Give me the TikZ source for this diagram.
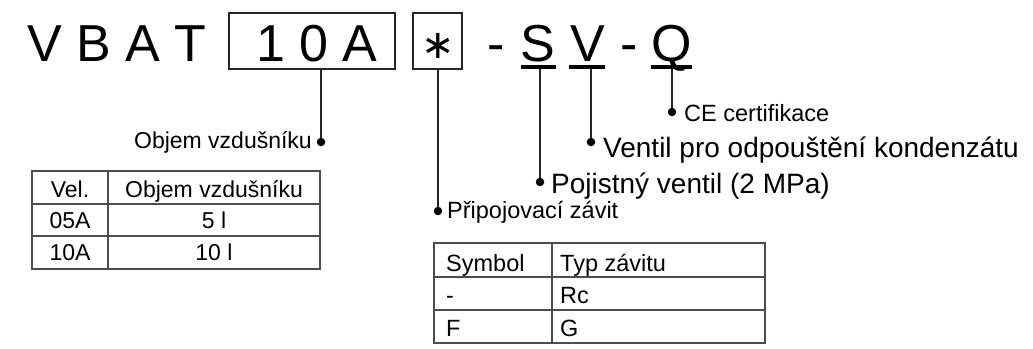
\documentclass[tikz,border=0pt]{standalone}
\usepackage{fontspec}
\setmainfont{Liberation Sans}
\newfontfamily\djvfont{DejaVu Sans}
\begin{document}
\begin{tikzpicture}[x=1pt,y=-1pt,
  big/.style={font=\fontsize{52}{52}\selectfont, inner sep=0pt},
  mid/.style={font=\fontsize{28}{28}\selectfont, inner sep=0pt},
  small/.style={font=\fontsize{23.5}{23.5}\selectfont, inner sep=0pt},
  smaller/.style={font=\fontsize{23}{23}\selectfont, inner sep=0pt},
  codebox/.style={draw=black!85, line width=1.3pt, inner sep=0pt},
  uline/.style={fill=black, inner sep=0pt, minimum height=4pt},
  conn/.style={draw=black!85, line width=1.3pt},
  dotc/.style={circle, fill=black, inner sep=0pt, minimum size=8.5pt},
  tbl/.style={draw=black!70, line width=1.2pt}]
\useasboundingbox (0,0) rectangle (1033,348);

% --- code line
\node[big, anchor=base west] (vbat) at (27,61) {V B A T};
\node[codebox, minimum width=166pt, minimum height=56pt] (box10) at (312,41) {};
\node[big, anchor=base west] (t10a) at (256,61) {1 0 A};
\node[codebox, minimum width=49pt, minimum height=56pt] (boxs) at (437.5,41) {};
\node[inner sep=0pt, font=\djvfont\fontsize{40}{40}\selectfont] (ast) at (438,46) {∗};
\node[big, anchor=base] (d1) at (496.5,61) {-};
\node[big, anchor=base] (cS) at (538,61) {S};
\node[big, anchor=base] (cV) at (587.5,61) {V};
\node[big, anchor=base] (d2) at (629,61) {-};
\node[big, anchor=base] (cQ) at (672,61) {Q};
\node[uline, minimum width=35pt] (uS) at (538.5,67) {};
\node[uline, minimum width=36pt] (uV) at (587,67) {};
\node[uline, minimum width=41pt] (uQ) at (671.5,67) {};

% --- dots
\node[dotc] (dObj) at (321,142) {};
\node[dotc] (dAst) at (438,211) {};
\node[dotc] (dS) at (540,182) {};
\node[dotc] (dV) at (591,142) {};
\node[dotc] (dQ) at (672,112) {};

% --- connectors
\draw[conn] (dObj |- box10.south) -- (dObj);
\draw[conn] (dAst |- boxs.south) -- (dAst);
\draw[conn] (dS |- uS.south) -- (dS);
\draw[conn] (dV |- uV.south) -- (dV);
\draw[conn] (dQ |- uQ.south) -- (dQ);

% --- labels
\node[smaller, anchor=base east] (lObj) at (312,148) {Objem vzdušníku};
\node[small, anchor=base west] (lAst) at (447,218) {Připojovací závit};
\node[mid, anchor=base west] (lS) at (551,193) {Pojistný ventil (2 MPa)};
\node[mid, anchor=base west] (lV) at (603,157) {Ventil pro odpouštění kondenzátu};
\node[small, anchor=base west] (lQ) at (684,121) {CE certifikace};

% --- table 1
\draw[tbl] (32,171) rectangle (320,269);
\draw[tbl] (32,204) -- (320,204);
\draw[tbl] (32,236) -- (320,236);
\draw[tbl] (108,171) -- (108,269);
\node[smaller, anchor=base] (t1a) at (70,197) {Vel.};
\node[smaller, anchor=base] (t1b) at (214,197) {Objem vzdušníku};
\node[smaller, anchor=base] (t1c) at (70,228) {05A};
\node[smaller, anchor=base] (t1d) at (214,228) {5 l};
\node[smaller, anchor=base] (t1e) at (70,260) {10A};
\node[smaller, anchor=base] (t1f) at (214,260) {10 l};

% --- table 2
\draw[tbl] (434,243) rectangle (765,343);
\draw[tbl] (434,277) -- (765,277);
\draw[tbl] (434,310) -- (765,310);
\draw[tbl] (552,243) -- (552,343);
\node[small, anchor=base west] (t2a) at (446,271) {Symbol};
\node[small, anchor=base west] (t2b) at (560,271) {Typ závitu};
\node[small, anchor=base west] (t2c) at (446,303) {-};
\node[small, anchor=base west] (t2d) at (560,303) {Rc};
\node[small, anchor=base west] (t2e) at (446,336) {F};
\node[small, anchor=base west] (t2f) at (560,336) {G};
\end{tikzpicture}
\end{document}
